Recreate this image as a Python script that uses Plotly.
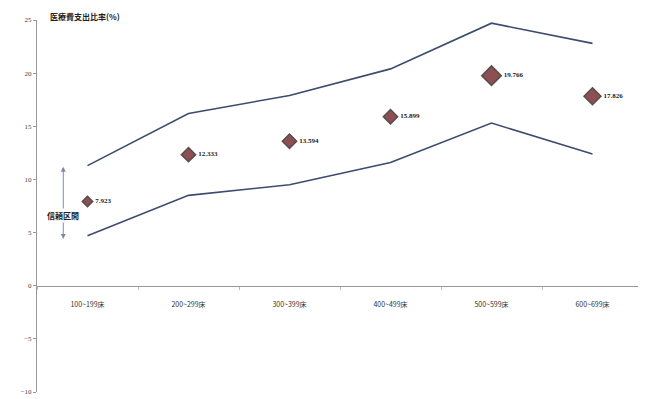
import plotly.graph_objects as go

categories = ["100~199床", "200~299床", "300~399床", "400~499床", "500~599床", "600~699床"]
values = [7.923, 12.333, 13.594, 15.899, 19.766, 17.826]
upper = [11.3, 16.2, 17.9, 20.4, 24.7, 22.8]
lower = [4.7, 8.5, 9.5, 11.6, 15.3, 12.4]
value_labels = ["7.923", "12.333", "13.594", "15.899", "19.766", "17.826"]
marker_sizes = [8, 11, 11, 11, 15, 13]
y_ticks = [25, 20, 15, 10, 5, 0, -5, -10]

fig = go.Figure()
line_style = dict(color="#3b4c6e", width=1.6)
fig.add_trace(go.Scatter(x=categories, y=upper, mode="lines", line=line_style, hoverinfo="skip"))
fig.add_trace(go.Scatter(x=categories, y=lower, mode="lines", line=line_style, hoverinfo="skip"))
fig.add_trace(go.Scatter(
    x=categories, y=values, mode="markers+text",
    marker=dict(symbol="diamond", size=marker_sizes, color="#5e0509",
                line=dict(color="#120202", width=1.5)),
    text=[" <b>" + t + "</b>" for t in value_labels], textposition="middle right",
    textfont=dict(family="Liberation Serif", size=7, color="#222222"),
))

# page body has an 8px margin, so the margins are reduced by 8px to compensate
fig.update_layout(
    width=646, height=399,
    margin=dict(l=29, r=11, t=12, b=15, autoexpand=False),
    paper_bgcolor="white", plot_bgcolor="white",
    showlegend=False,
    font=dict(family="Noto Sans CJK JP", size=7, color="#444444"),
    xaxis=dict(
        type="category", range=[-0.5, 5.5],
        anchor="free", position=10 / 35,
        showline=True, linecolor="#999999", linewidth=1,
        ticks="outside", ticklen=3, tickcolor="#bbbbbb", tickson="boundaries",
        showgrid=False, zeroline=False, automargin=False,
        tickfont=dict(size=7, color="#333333"),
        ticklabelstandoff=12,
    ),
    yaxis=dict(
        range=[-10, 25], domain=[0, 1],
        tickvals=y_ticks,
        showline=True, linecolor="#999999", linewidth=1,
        ticks="outside", ticklen=3, tickcolor="#999999",
        showgrid=False, zeroline=False, automargin=False,
        tickfont=dict(family="Liberation Serif", size=7, color="#444444"),
    ),
)

# title text
fig.add_annotation(x=0.018, y=1.01, xref="paper", yref="paper", xanchor="left", yanchor="middle",
                   text="<b>医療費支出比率(%)</b>", showarrow=False,
                   font=dict(family="Noto Sans CJK JP", size=8, color="#222222"))

# confidence interval arrows
ax_x = -0.24
fig.add_annotation(x=ax_x, y=11.2, ax=ax_x, ay=6.5, xref="x", yref="y", axref="x", ayref="y",
                   text="", showarrow=True, arrowhead=2, arrowsize=1, arrowwidth=1, arrowcolor="#7a8aa8")
fig.add_annotation(x=ax_x, y=4.4, ax=ax_x, ay=6.5, xref="x", yref="y", axref="x", ayref="y",
                   text="", showarrow=True, arrowhead=2, arrowsize=1, arrowwidth=1, arrowcolor="#7a8aa8")
fig.add_annotation(x=ax_x, y=6.6, xref="x", yref="y", text="<b>信頼区間</b>", showarrow=False,
                   bgcolor="white", font=dict(family="Noto Sans CJK JP", size=8, color="#222222"))

fig.write_html("out.html")
